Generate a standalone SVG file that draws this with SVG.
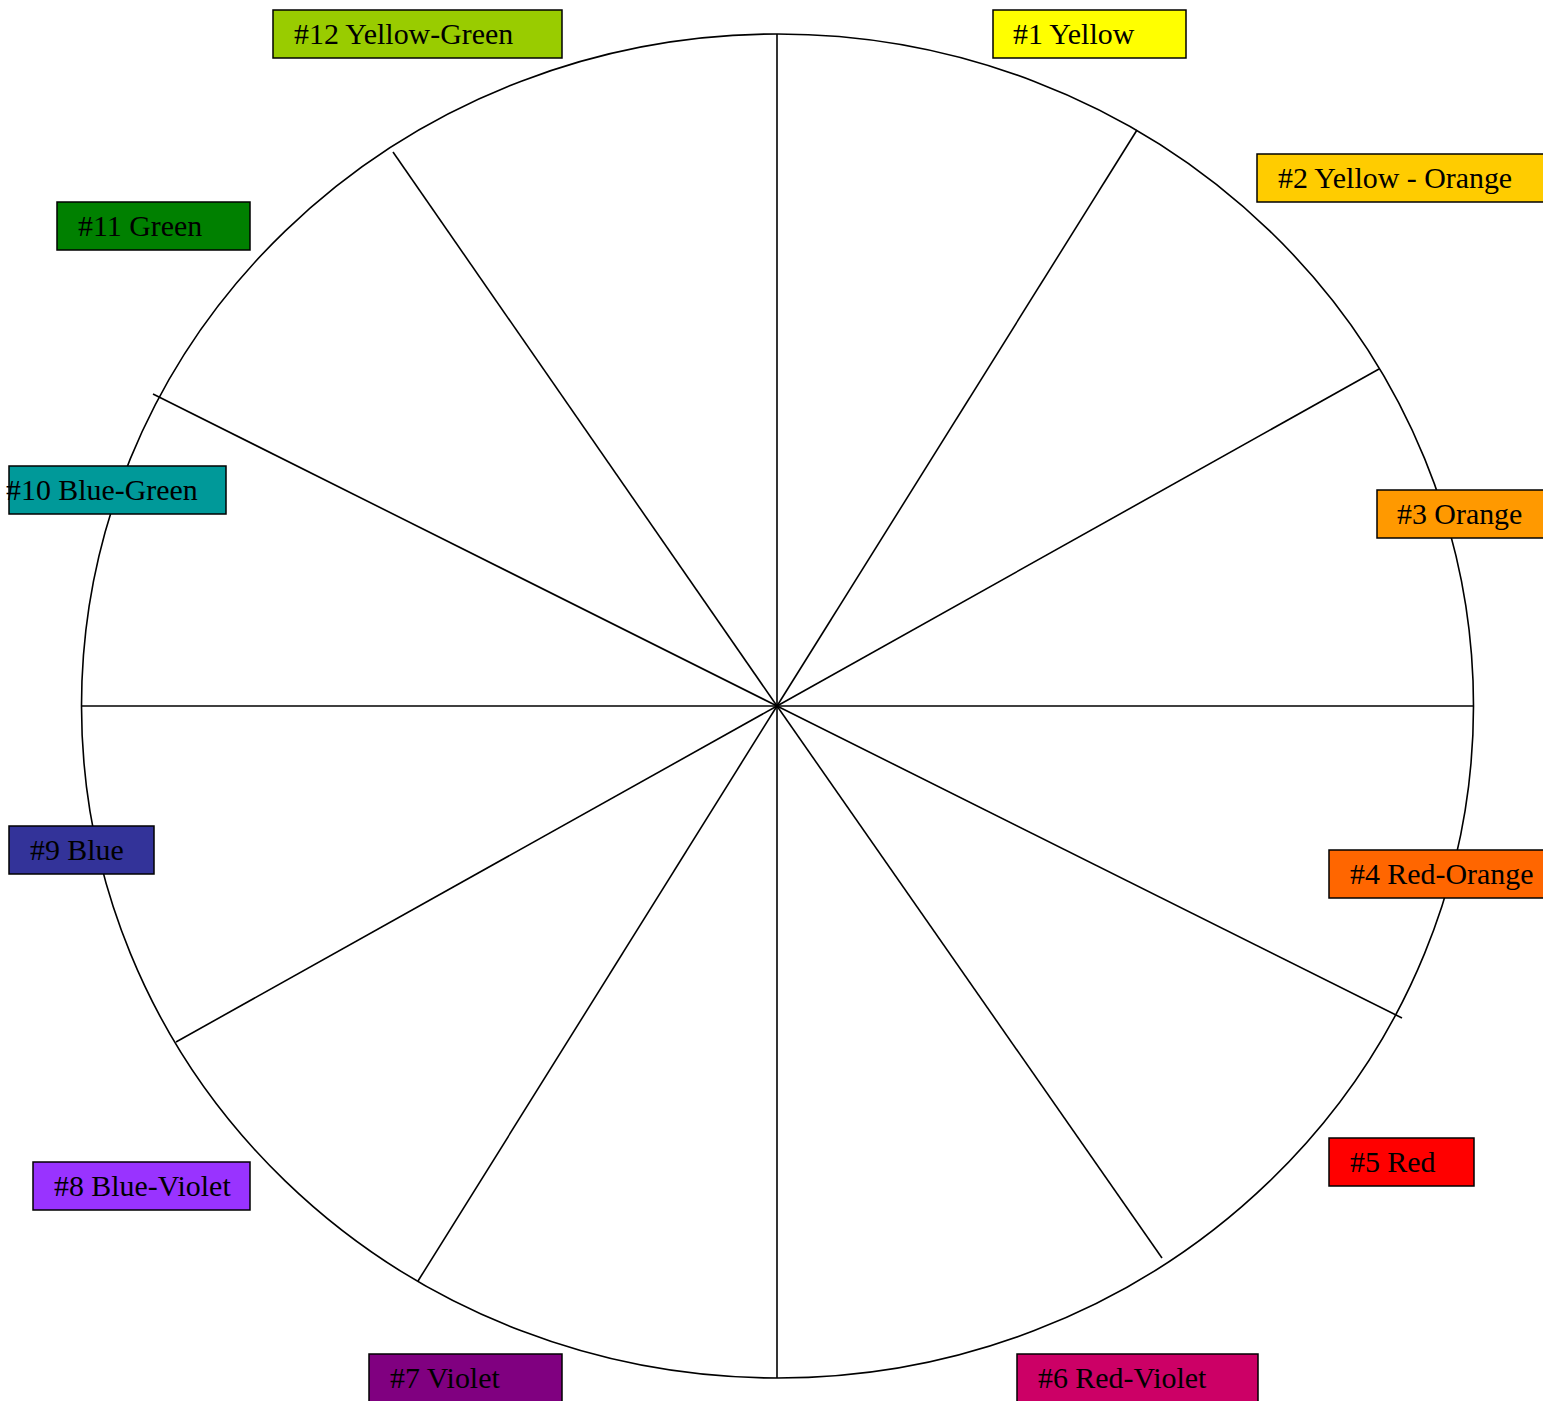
<svg xmlns="http://www.w3.org/2000/svg" width="1543" height="1401" viewBox="0 0 1543 1401">
<style>
.ln{stroke:#000;stroke-width:1.6;fill:none}
.bx{stroke:#000;stroke-width:1.5}
.t{font-family:"Liberation Serif","Times New Roman",serif;font-size:29.9px;fill:#000}
</style>
<rect width="1543" height="1401" fill="#fff"/>
<g id="connectors">
<ellipse class="ln" cx="777.5" cy="706" rx="696" ry="672"/>
<line class="ln" x1="777" y1="706" x2="777" y2="34"/>
<line class="ln" x1="777" y1="706" x2="1137" y2="130"/>
<line class="ln" x1="777" y1="706" x2="1379" y2="369"/>
<line class="ln" x1="777" y1="706" x2="1474" y2="706"/>
<line class="ln" x1="777" y1="706" x2="1402" y2="1018"/>
<line class="ln" x1="777" y1="706" x2="1162" y2="1258"/>
<line class="ln" x1="777" y1="706" x2="777" y2="1378"/>
<line class="ln" x1="777" y1="706" x2="418" y2="1281"/>
<line class="ln" x1="777" y1="706" x2="176" y2="1042"/>
<line class="ln" x1="777" y1="706" x2="82" y2="706"/>
<line class="ln" x1="777" y1="706" x2="153" y2="394"/>
<line class="ln" x1="777" y1="706" x2="393" y2="152"/>
</g>
<g id="n1"><rect class="bx" x="993" y="10" width="193" height="48" fill="#ffff00"/><text class="t" x="1013" y="44">#1 Yellow</text></g>
<g id="n2"><rect class="bx" x="1257" y="154" width="300" height="48" fill="#ffcc00"/><text class="t" x="1278" y="188">#2 Yellow - Orange</text></g>
<g id="n3"><rect class="bx" x="1377" y="490" width="180" height="48" fill="#ff9900"/><text class="t" x="1397" y="524">#3 Orange</text></g>
<g id="n4"><rect class="bx" x="1329" y="850" width="228" height="48" fill="#ff6600"/><text class="t" x="1350" y="884">#4 Red-Orange</text></g>
<g id="n5"><rect class="bx" x="1329" y="1138" width="145" height="48" fill="#ff0000"/><text class="t" x="1350" y="1172">#5 Red</text></g>
<g id="n6"><rect class="bx" x="1017" y="1354" width="241" height="52" fill="#cc0066"/><text class="t" x="1038" y="1388">#6 Red-Violet</text></g>
<g id="n7"><rect class="bx" x="369" y="1354" width="193" height="52" fill="#800080"/><text class="t" x="390" y="1388">#7 Violet</text></g>
<g id="n8"><rect class="bx" x="33" y="1162" width="217" height="48" fill="#9933ff"/><text class="t" x="54" y="1196">#8 Blue-Violet</text></g>
<g id="n9"><rect class="bx" x="9" y="826" width="145" height="48" fill="#333399"/><text class="t" x="30" y="860">#9 Blue</text></g>
<g id="n10"><rect class="bx" x="9" y="466" width="217" height="48" fill="#009999"/><text class="t" x="6" y="500">#10 Blue-Green</text></g>
<g id="n11"><rect class="bx" x="57" y="202" width="193" height="48" fill="#008000"/><text class="t" x="78" y="236">#11 Green</text></g>
<g id="n12"><rect class="bx" x="273" y="10" width="289" height="48" fill="#99cc00"/><text class="t" x="294" y="44">#12 Yellow-Green</text></g>
</svg>
